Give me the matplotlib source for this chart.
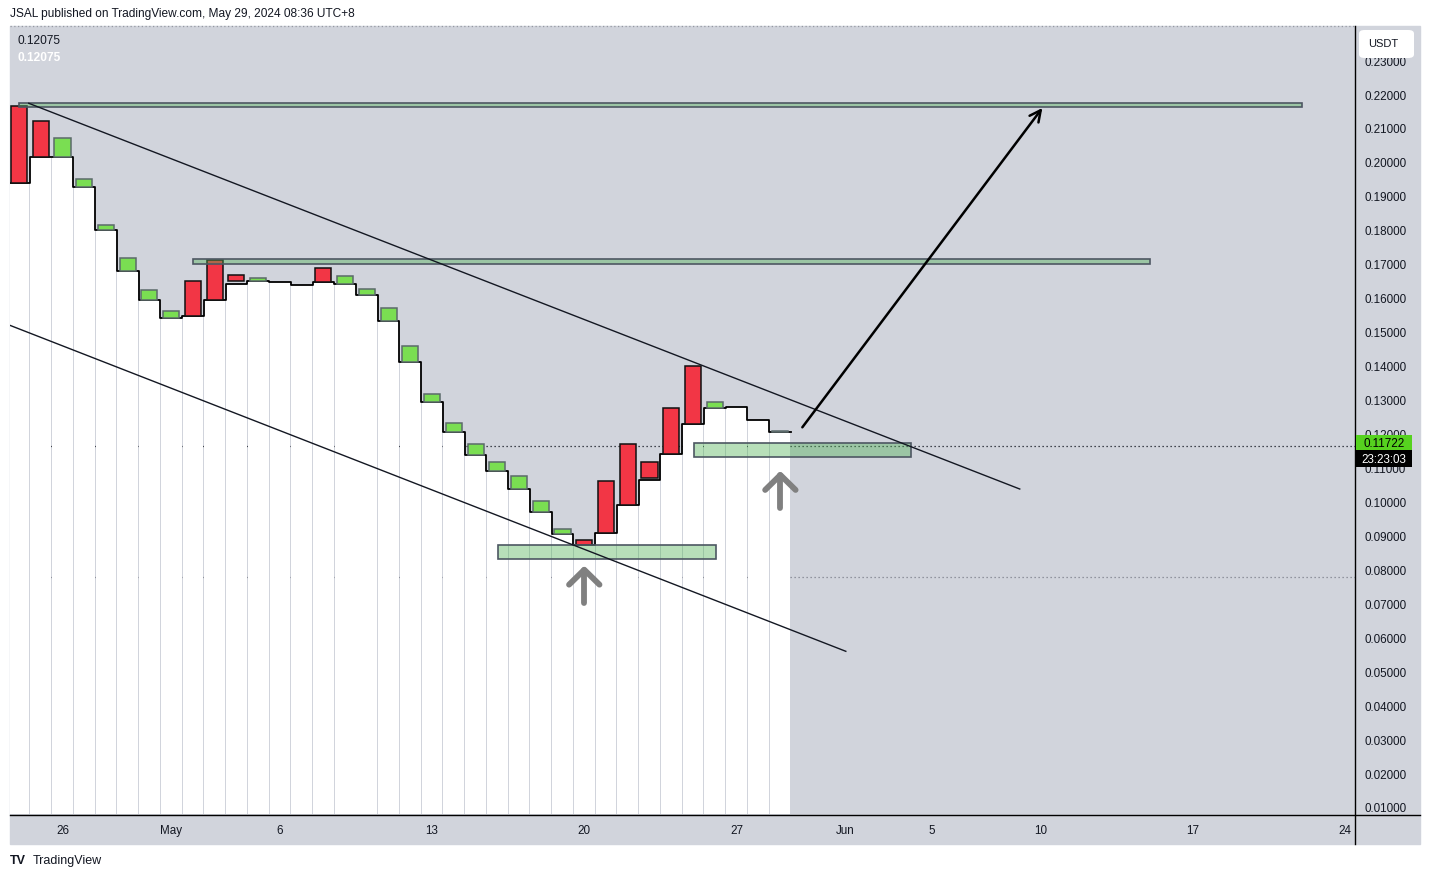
import numpy as np
import matplotlib
matplotlib.use('Agg')
import matplotlib.pyplot as plt
from matplotlib.patches import Rectangle, FancyBboxPatch
from matplotlib.lines import Line2D
from matplotlib.transforms import blended_transform_factory

plt.rcParams['font.family'] = ['Liberation Sans', 'DejaVu Sans']

# daily bars, index 0 = Apr 24 2024 ... index 35 = May 29 2024
opens = [0.21638, 0.21196, 0.20135, 0.19252, 0.17985, 0.16778, 0.15923, 0.15393,
         0.16483, 0.17100, 0.16660, 0.16483, None, None, 0.16866, 0.16395,
         0.16071, 0.15305, 0.14097, 0.12928, 0.12044, 0.11367, 0.10887, 0.10365,
         0.09679, 0.09031, 0.08854, 0.10592, 0.11682, 0.11152, 0.12742, 0.13979,
         0.12742, None, None, 0.12044]
closes = [0.19370, 0.20153, 0.20695, 0.19487, 0.18133, 0.17161, 0.16218, 0.15599,
          0.15452, 0.15923, 0.16483, 0.16571, None, None, 0.16454, 0.16630,
          0.16248, 0.15688, 0.14569, 0.13163, 0.12309, 0.11682, 0.11152, 0.10739,
          0.10003, 0.09178, 0.08716, 0.09060, 0.09885, 0.10680, 0.11387, 0.12271,
          0.12919, None, None, 0.12075]
# white step level under each bar
base = [0.19370, 0.20135, 0.20135, 0.19252, 0.17985, 0.16778, 0.15923, 0.15393,
        0.15452, 0.15923, 0.16395, 0.16483, 0.16454, 0.16366, 0.16454, 0.16395,
        0.16071, 0.15305, 0.14097, 0.12928, 0.12044, 0.11367, 0.10887, 0.10365,
        0.09679, 0.09031, 0.08716, 0.09060, 0.09885, 0.10622, 0.11387, 0.12271,
        0.12742, 0.12772, 0.12407, 0.12044]

tick_pos = [2, 7, 12, 19, 26, 33, 38, 42, 47, 54, 61]
tick_lab = ['26', 'May', '6', '13', '20', '27', 'Jun', '5', '10', '17', '24']
price_ticks = np.round(np.arange(0.01, 0.2301, 0.01), 2)

last_price = 0.11722
last_close = 0.12075
price_line = 0.1164
grey_line = 0.0777

# drawings (x in bar index, y in price)
zones = [(0.0, 59.0, 0.21608, 0.21726),
         (8.0, 52.0, 0.16984, 0.17131),
         (31.05, 41.05, 0.11299, 0.11711),
         (22.05, 32.05, 0.08294, 0.08707)]
trend_upper = ([0.45, 46.03], [0.21726, 0.10365])
trend_lower = ([-0.42, 38.03], [0.15187, 0.05585])
big_arrow = ((36.03, 0.12183), (47.07, 0.21588))
up_arrows = [(26.0, 0.07016, 0.07988), (35.02, 0.09797, 0.10778)]

BG = '#d1d4dc'
TXT = '#131722'
RED = '#f23645'
GREEN = '#7ade52'
W, H = 1430, 879
ymin, ymax = 0.00793, 0.24003


def fx(px):
    return px / W


def fy(py):
    return 1 - py / H


fig = plt.figure(figsize=(W / 100, H / 100), dpi=100)
fig.patch.set_facecolor('white')
fig.add_artist(Rectangle((fx(10), fy(845)), (1420 - 10) / W, (845 - 27) / H,
                         transform=fig.transFigure, color=BG, zorder=-1))

ax = fig.add_axes([fx(10), fy(815), (1355 - 10) / W, (815 - 27) / H])
ax.set_facecolor(BG)
ax.set_xlim(-0.414, 61.45)
ax.set_ylim(ymin, ymax)

n = len(base)
x = np.arange(n)
base_arr = np.array(base)

# white columns with thin gaps
ax.bar(x, base_arr - ymin, bottom=ymin, width=0.955, color='white', linewidth=0, zorder=2)
ax.step(np.arange(n + 1) - 0.5, np.r_[base_arr, base_arr[-1]], where='post',
        color='black', lw=1.3, zorder=3)

# dotted levels (behind columns)
ax.axhline(grey_line, color='#7d808b', lw=0.9, ls=(0, (1, 2.2)), zorder=1)
ax.axhline(price_line, color=TXT, lw=0.9, ls=(0, (1, 2.2)), zorder=1)
ax.plot([0, 1], [1, 1], transform=ax.transAxes, color='#9598a1', lw=0.9,
        ls=(0, (1, 2)), clip_on=False, zorder=1)

# candle bodies
for i in range(n):
    o, c = opens[i], closes[i]
    if o is None:
        continue
    up = c >= o
    ax.add_patch(Rectangle((i - 0.37, min(o, c)), 0.74, abs(c - o),
                           facecolor=GREEN if up else RED,
                           edgecolor='#5b6a6a' if up else '#111111',
                           lw=1.1, zorder=4))

# zones
for x0, x1, lo, hi in zones:
    ax.add_patch(Rectangle((x0, lo), x1 - x0, hi - lo, facecolor=(76 / 255, 175 / 255, 80 / 255, 0.4),
                           edgecolor='#4d5762', lw=1.2, zorder=5))

# trend lines
ax.plot(*trend_upper, color=TXT, lw=1.0, zorder=6)
ax.plot(*trend_lower, color=TXT, lw=1.0, zorder=6)

ax.annotate('', xy=big_arrow[1], xytext=big_arrow[0],
            arrowprops=dict(arrowstyle='->', color='black', lw=1.8,
                            mutation_scale=20, shrinkA=0, shrinkB=0), zorder=7)

for ux, tail, tip in up_arrows:
    arm = tip - 0.0044
    ax.plot([ux, ux], [tail, tip], color='#808080', lw=4.2, solid_capstyle='round', zorder=7)
    ax.plot([ux - 0.7, ux, ux + 0.7], [arm, tip, arm], color='#808080', lw=4.2,
            solid_capstyle='round', solid_joinstyle='round', zorder=7)

# axes styling
for s in ax.spines.values():
    s.set_visible(False)
ax.yaxis.tick_right()
ax.set_yticks(price_ticks)
ax.set_yticklabels(['%.5f' % v for v in price_ticks])
ax.set_xticks(tick_pos)
ax.set_xticklabels(tick_lab)
ax.tick_params(axis='y', length=0, pad=6.5, labelsize=8.4, labelcolor=TXT)
ax.tick_params(axis='x', length=0, pad=7.5, labelsize=8.4, labelcolor=TXT)

fig.add_artist(Line2D([fx(1355), fx(1355)], [fy(27), fy(845)], color='black', lw=1.0))
fig.add_artist(Line2D([fx(10), fx(1420)], [fy(815.5), fy(815.5)], color='black', lw=1.0))

# price scale widgets
fig.add_artist(FancyBboxPatch((fx(1359), fy(59)), (1414 - 1359) / W, (59 - 31) / H,
                              boxstyle='round,pad=0,rounding_size=0.004',
                              transform=fig.transFigure, facecolor='white',
                              edgecolor='none', zorder=2))
fig.text(fx(1383), fy(44), 'USDT', ha='center', va='center', fontsize=8, color=TXT, zorder=3)

tr = blended_transform_factory(fig.transFigure, ax.transData)
fig.add_artist(Rectangle((fx(1356), last_price - 0.0022), (1412 - 1356) / W, 0.0044,
                         transform=tr, facecolor='#56d21f', edgecolor='none', zorder=2))
fig.add_artist(Rectangle((fx(1356), last_price - 0.0022 - 0.005), (1412 - 1356) / W, 0.005,
                         transform=tr, facecolor='black', edgecolor='none', zorder=2))
fig.text(fx(1384), last_price, '%.5f' % last_price, transform=tr, ha='center', va='center',
         fontsize=8.4, color='black', zorder=3)
fig.text(fx(1384), last_price - 0.0022 - 0.0025, '23:23:03', transform=tr, ha='center',
         va='center', fontsize=8.4, color='white', zorder=3)

# legend values top-left
fig.text(fx(18), fy(41), '%.5f' % last_close, ha='left', va='center', fontsize=8.6, color=TXT)
fig.text(fx(18), fy(58), '%.5f' % last_close, ha='left', va='center', fontsize=8.6,
         color='white', fontweight='bold')

# header / footer
fig.text(fx(10), fy(14), 'JSAL published on TradingView.com, May 29, 2024 08:36 UTC+8',
         ha='left', va='center', fontsize=8.6, color=TXT)
fig.text(fx(10), fy(861), 'TV', ha='left', va='center', fontsize=9, color=TXT,
         fontweight='bold')
fig.text(fx(33), fy(861), 'TradingView', ha='left', va='center', fontsize=9, color=TXT)

fig.savefig('out.png', dpi=100)
